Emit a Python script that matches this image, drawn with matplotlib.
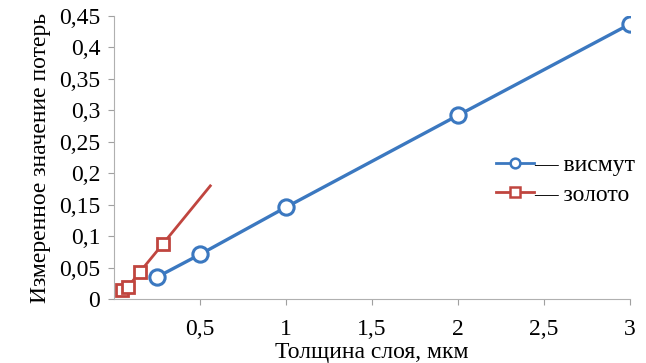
import matplotlib
matplotlib.use("Agg")
import matplotlib.pyplot as plt
from matplotlib.ticker import FuncFormatter
from matplotlib.lines import Line2D

# data
bi_x = [0.25, 0.5, 1.0, 2.0, 3.0]
bi_y = [0.035, 0.071, 0.146, 0.292, 0.437]
au_x = [0.045, 0.08, 0.15, 0.285, 0.56]
au_y = [0.014, 0.019, 0.043, 0.088, 0.18]
x_ticks = [0.5, 1, 1.5, 2, 2.5, 3]
y_ticks = [0, 0.05, 0.1, 0.15, 0.2, 0.25, 0.3, 0.35, 0.4, 0.45]

plt.rcParams['font.family'] = ['Liberation Serif', 'DejaVu Serif']

fig = plt.figure(figsize=(6.46, 3.63), dpi=100)
ax = fig.add_axes([0.1765, 0.176, 0.7985, 0.78])

blue = '#3b78c0'
red = '#c0453f'
ax.plot(bi_x, bi_y, color=blue, lw=2.4, marker='o', ms=11, mfc='white',
        mec=blue, mew=2.2)
ax.plot(au_x, au_y, color=red, lw=2.0, marker='s', ms=9, mfc='white',
        mec=red, mew=2.0, markevery=[0, 1, 2, 3])

ax.set_xlim(0, 3)
ax.set_ylim(0, 0.45)
ax.set_xticks(x_ticks)
ax.set_yticks(y_ticks)
fmt = FuncFormatter(lambda v, p: ('%g' % v).replace('.', ','))
ax.xaxis.set_major_formatter(fmt)
ax.yaxis.set_major_formatter(fmt)
ax.tick_params(labelsize=17, colors='#a0a0a0', labelcolor='black', length=4)
ax.tick_params(axis='x', pad=10)
ax.tick_params(axis='y', pad=6)

for s in ['top', 'right']:
    ax.spines[s].set_visible(False)
for s in ['left', 'bottom']:
    ax.spines[s].set_color('#b0b0b0')

ax.set_ylabel('Измеренное значение потерь', fontsize=17, labelpad=6)
ax.set_xlabel('Толщина слоя, мкм', fontsize=17, labelpad=2)

handles = [
    Line2D([], [], color=blue, lw=2.0, marker='o', ms=7, mfc='white', mec=blue, mew=1.8),
    Line2D([], [], color=red, lw=2.0, marker='s', ms=7, mfc='white', mec=red, mew=1.8),
]
ax.legend(handles, ['— висмут', '— золото'], loc='upper left',
          bbox_to_anchor=(0.722, 0.545), frameon=False, fontsize=17,
          handlelength=1.6, handletextpad=0.0, labelspacing=0.35,
          borderaxespad=0.0)

plt.savefig('out.png', dpi=100)
